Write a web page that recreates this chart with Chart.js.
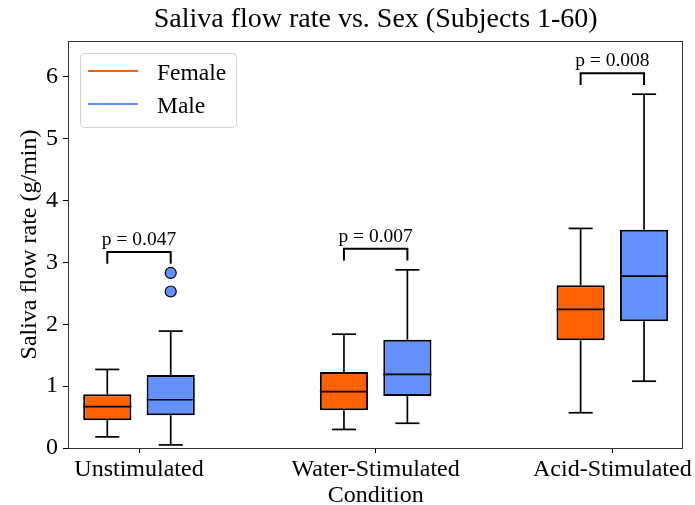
<!DOCTYPE html>
<html>
<head>
<meta charset="utf-8">
<script src="https://cdn.jsdelivr.net/npm/chart.js@4.4.0/dist/chart.umd.min.js"></script>
<style>
  html, body { margin: 0; padding: 0; background: #fff; }
</style>
</head>
<body>
<canvas id="flowChart" width="695" height="505"></canvas>
<script>
// Conditions on the x axis
const conditions = ['Unstimulated', 'Water-Stimulated', 'Acid-Stimulated'];

// Box statistics, saliva flow rate (g/min)
const femaleLow      = [0.18, 0.30, 0.57];
const femaleQ1       = [0.45, 0.61, 1.74];
const femaleMedian   = [0.67, 0.91, 2.24];
const femaleQ3       = [0.87, 1.23, 2.63];
const femaleHigh     = [1.27, 1.84, 3.55];
const femaleOutliers = [[], [], []];

const maleLow      = [0.05, 0.40, 1.08];
const maleQ1       = [0.53, 0.84, 2.05];
const maleMedian   = [0.78, 1.19, 2.78];
const maleQ3       = [1.18, 1.75, 3.53];
const maleHigh     = [1.89, 2.88, 5.72];
const maleOutliers = [[2.53, 2.83], [], []];

// p-values shown over each pair
const pValues = ['0.047', '0.007', '0.008'];

// Axis ticks
const xTickValues = [0, 1, 2];
const yTickValues = [0, 1, 2, 3, 4, 5, 6];

const femaleColor = '#ff6200';
const maleColor = '#6391ff';

Chart.defaults.font.family = "'Liberation Serif', 'Times New Roman', serif";
Chart.defaults.color = '#000';

// Build floating bar data (Q1 -> Q3) for the box bodies
function boxData(q1, q3) {
  return q1.map(function(v, i) {
    return { x: i, y: [v, q3[i]] };
  });
}

const boxStats = [
  { low: femaleLow, q1: femaleQ1, med: femaleMedian, q3: femaleQ3, high: femaleHigh, out: femaleOutliers, color: femaleColor },
  { low: maleLow, q1: maleQ1, med: maleMedian, q3: maleQ3, high: maleHigh, out: maleOutliers, color: maleColor }
];

function line(ctx, x1, y1, x2, y2) {
  ctx.beginPath();
  ctx.moveTo(x1, y1);
  ctx.lineTo(x2, y2);
  ctx.stroke();
}

// Whiskers, medians, outliers, p-value brackets, frame and legend
const boxPlotPlugin = {
  id: 'boxPlot',
  afterDatasetsDraw(chart) {
    const ctx = chart.ctx;
    const area = chart.chartArea;
    const yScale = chart.scales.y;
    const py = function(v) { return yScale.getPixelForValue(v); };

    ctx.save();
    ctx.strokeStyle = '#000';
    ctx.lineWidth = 1.7;

    boxStats.forEach(function(s, di) {
      const meta = chart.getDatasetMeta(di);
      meta.data.forEach(function(bar, i) {
        const cx = bar.x;
        const half = bar.width / 2;
        // whiskers
        line(ctx, cx, py(s.q3[i]), cx, py(s.high[i]));
        line(ctx, cx, py(s.q1[i]), cx, py(s.low[i]));
        // caps
        line(ctx, cx - half / 2, py(s.high[i]), cx + half / 2, py(s.high[i]));
        line(ctx, cx - half / 2, py(s.low[i]), cx + half / 2, py(s.low[i]));
        // median
        line(ctx, cx - half, py(s.med[i]), cx + half, py(s.med[i]));
        // outliers
        s.out[i].forEach(function(v) {
          ctx.beginPath();
          ctx.arc(cx, py(v), 5.5, 0, Math.PI * 2);
          ctx.fillStyle = s.color;
          ctx.fill();
          ctx.lineWidth = 1.2;
          ctx.stroke();
          ctx.lineWidth = 1.7;
        });
      });
    });

    // brackets with p-values
    const fMeta = chart.getDatasetMeta(0);
    const mMeta = chart.getDatasetMeta(1);
    ctx.lineWidth = 2;
    pValues.forEach(function(p, i) {
      const x1 = fMeta.data[i].x;
      const x2 = mMeta.data[i].x;
      const peak = Math.max(femaleHigh[i], maleHigh[i],
        ...femaleOutliers[i], ...maleOutliers[i]);
      const yb = py(peak + 0.15);
      const yt = py(peak + 0.34);
      ctx.beginPath();
      ctx.moveTo(x1, yb);
      ctx.lineTo(x1, yt);
      ctx.lineTo(x2, yt);
      ctx.lineTo(x2, yb);
      ctx.stroke();
      ctx.fillStyle = '#000';
      ctx.font = "19.5px 'Liberation Serif'";
      ctx.textAlign = 'center';
      ctx.textBaseline = 'alphabetic';
      ctx.fillText('p = ' + p, (x1 + x2) / 2, yt - 7);
    });

    // axes frame
    ctx.strokeStyle = '#333';
    ctx.lineWidth = 1;
    ctx.strokeRect(Math.round(area.left) + 0.5, Math.round(area.top) + 0.5,
      Math.round(area.right - area.left) - 1, Math.round(area.bottom - area.top));

    // legend
    const lx = area.left + 12;
    const ly = area.top + 12;
    ctx.beginPath();
    ctx.roundRect(lx + 0.5, ly + 0.5, 156, 74, 4);
    ctx.fillStyle = 'rgba(255,255,255,0.8)';
    ctx.fill();
    ctx.strokeStyle = '#d0d0d0';
    ctx.stroke();
    ctx.lineWidth = 2;
    ctx.font = "23.5px 'Liberation Serif'";
    ctx.textAlign = 'left';
    ctx.textBaseline = 'middle';
    ['Female', 'Male'].forEach(function(name, k) {
      const yy = ly + 18 + k * 33;
      ctx.strokeStyle = boxStats[k].color;
      line(ctx, lx + 8, yy, lx + 58, yy);
      ctx.fillStyle = '#000';
      ctx.fillText(name, lx + 77, yy + 3);
    });
    ctx.restore();
  }
};

const ctx = document.getElementById('flowChart').getContext('2d');

const flowChart = new Chart(ctx, {
  type: 'bar',
  data: {
    datasets: [
      {
        label: 'Female',
        data: boxData(femaleQ1, femaleQ3),
        backgroundColor: femaleColor,
        borderColor: '#000',
        borderWidth: 2,
        borderSkipped: false,
        categoryPercentage: 0.536,
        barPercentage: 0.76
      },
      {
        label: 'Male',
        data: boxData(maleQ1, maleQ3),
        backgroundColor: maleColor,
        borderColor: '#000',
        borderWidth: 2,
        borderSkipped: false,
        categoryPercentage: 0.536,
        barPercentage: 0.76
      }
    ]
  },
  options: {
    responsive: false,
    animation: false,
    layout: { padding: { left: 0, right: 8, top: 0, bottom: 0 } },
    scales: {
      x: {
        type: 'linear',
        min: -0.3,
        max: 2.3,
        offset: false,
        afterBuildTicks: function(scale) {
          scale.ticks = xTickValues.map(function(v) { return { value: v }; });
        },
        afterFit: function(scale) { scale.height = 57; },
        ticks: {
          font: { size: 24 },
          padding: 2,
          maxRotation: 0,
          autoSkip: false,
          callback: function(value) { return conditions[value]; }
        },
        grid: { offset: false, drawOnChartArea: false, tickLength: 5, tickColor: '#000' },
        border: { display: false },
        title: {
          display: true,
          text: 'Condition',
          font: { size: 24, lineHeight: 1 },
          padding: { top: 0, bottom: -3 }
        }
      },
      y: {
        min: 0,
        max: 6.58,
        afterBuildTicks: function(scale) {
          scale.ticks = yTickValues.map(function(v) { return { value: v }; });
        },
        afterFit: function(scale) { scale.width = 68; },
        ticks: { font: { size: 24 }, padding: 5 },
        grid: { drawOnChartArea: false, tickLength: 5, tickColor: '#000' },
        border: { display: false },
        title: {
          display: true,
          text: 'Saliva flow rate (g/min)',
          font: { size: 24 },
          padding: { top: 15, bottom: 0 }
        }
      }
    },
    plugins: {
      legend: { display: false },
      tooltip: { enabled: false },
      title: {
        display: true,
        fullSize: false,
        text: 'Saliva flow rate vs. Sex (Subjects 1-60)',
        font: { size: 28, weight: 'normal' },
        padding: { top: 3.2, bottom: 4.2 }
      }
    }
  },
  plugins: [boxPlotPlugin]
});
</script>
</body>
</html>
